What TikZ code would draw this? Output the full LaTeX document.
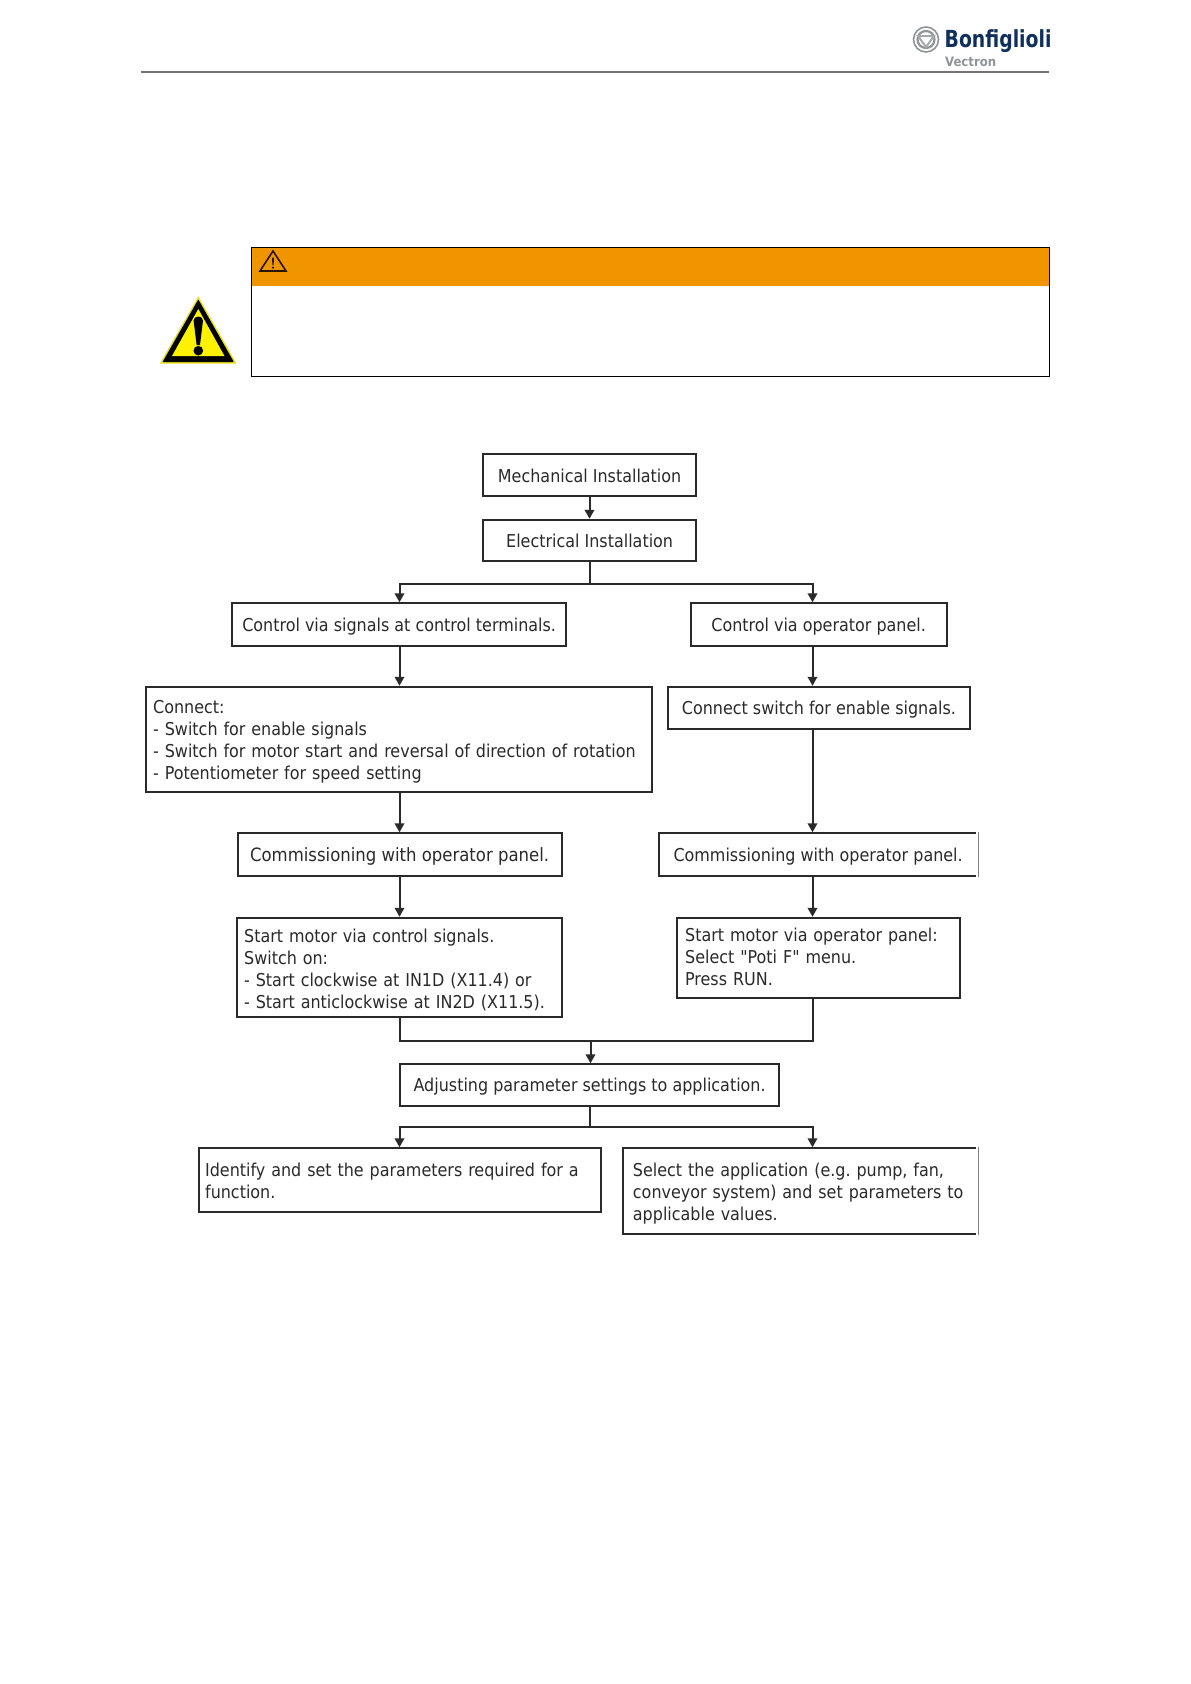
\documentclass[tikz,border=0pt]{standalone}
\usepackage{fontspec}
\setmainfont{DejaVu Sans Condensed}
\newfontfamily\boxfont{DejaVu Sans Condensed}
\usetikzlibrary{arrows.meta,calc}
\definecolor{ink}{HTML}{2A2A2A}
\definecolor{warn}{HTML}{F09400}
\definecolor{logoblue}{HTML}{0F2F5C}
\definecolor{logogray}{HTML}{8E9497}
\tikzset{
  boxbase/.style={draw=ink,line width=1.9pt,inner sep=0pt,text=ink,font=\boxfont\frenchspacing\fontsize{17.75}{22}\selectfont},
  single/.style={text height=13.5pt,text depth=0.2pt},
  arr/.style={draw=ink,line width=2pt,-{Triangle[length=9pt,width=9.5pt]}},
  lin/.style={draw=ink,line width=2pt},
  fadeedge/.style={draw=black!50,line width=1.1pt,preaction={draw=white,line width=3.4pt}},
}
\newcommand{\bxc}[6]{\node[boxbase,single,minimum width=#4pt-#2pt,minimum height=#5pt-#3pt,anchor=north west] (#1) at (#2,#3) {#6};}
\newcommand{\bxl}[7]{\node[boxbase,minimum width=#4pt-#2pt,minimum height=#5pt-#3pt,text width=#4pt-#2pt-2*#7pt,align=left,anchor=north west] (#1) at (#2,#3) {#6};}
\newcommand{\lowerfirst}{\rule{0pt}{18pt}}
\begin{document}
\begin{tikzpicture}[x=1pt,y=-1pt]
\useasboundingbox (0,0) rectangle (1191,1684);
\fill[white] (0,0) rectangle (1191,1684);
% header rule and logo
\draw[draw=black!55,line width=1.1pt] (140.5,72) -- (1049,72);
\draw[logogray,line width=1.6pt] (926,39.5) circle (12.5);
\draw[logogray,line width=2.2pt] (926,39.5) circle (8.5);
\draw[logogray!80,line width=2pt] (918,36) -- (934,36) -- (926,47) -- cycle;
\node[anchor=base west,inner sep=0pt,text=logoblue,xscale=0.89,transform shape,font=\fontsize{23.5}{24}\selectfont\bfseries] (logoname) at (944.5,47) {Bonfiglioli};
\node[anchor=base west,inner sep=0pt,text=logogray,font=\fontsize{13}{13}\selectfont\bfseries] (logosub) at (945,66) {Vectron};
% warning panel
\fill[warn] (251.4,247.5) rectangle (1049,285.5);
\draw[black,line width=0.9pt] (251.4,247.5) rectangle (1049,376);
\draw[draw=black!85!warn,line width=1.6pt,line join=miter] (273,251) -- (286,271) -- (260,271) -- cycle;
\fill[black!85!warn] (272,257.5) -- (274,257.5) -- (273.6,265) -- (272.4,265) -- cycle;
\fill[black!85!warn] (273,267.6) circle (1.2);
% yellow triangle
\draw[draw=black,fill=black,line width=1pt,line join=round,preaction={draw=yellow!90!black,line width=4pt}] (198.3,300.5) -- (233,361.5) -- (163.4,361.5) -- cycle;
\fill[yellow] (198.3,309) -- (224.5,356) -- (172,356) -- cycle;
\fill[black] (193.6,320.5) .. controls (193.8,315.2) and (202.8,315.2) .. (203,320.5) -- (200,345) -- (196.6,345) -- cycle;
\fill[black] (198.3,350.7) circle (4.8);
\begin{scope}[shift={(-0.8,-0.7)}]
% flow boxes
\bxc{mech}{483}{454}{696}{496}{\raisebox{-1pt}{Mechanical Installation}}
\bxc{elec}{483}{519.5}{696}{561}{Electrical Installation}
\bxc{ctrlL}{232}{603}{566}{645.5}{Control via signals at control terminals.}
\bxc{ctrlR}{690.5}{603}{946.5}{645.5}{Control via operator panel.}
\bxl{conn}{146}{686.5}{652}{792}{\lowerfirst Connect:\\- Switch for enable signals\\- Switch for motor start and reversal of direction of rotation\\- Potentiometer for speed setting}{7}
\bxc{connR}{667.5}{686.5}{970}{729}{Connect switch for enable signals.}
\bxc{commL}{237.5}{833}{561.5}{875.5}{\fontsize{18.35}{22}\selectfont Commissioning with operator panel.}
\bxc{commR}{659}{833}{977}{875.5}{Commissioning with operator panel.}
\bxl{startL}{237}{917.5}{562}{1017}{\lowerfirst Start motor via control signals.\\Switch on:\\- Start clockwise at IN1D (X11.4) or\\- Start anticlockwise at IN2D (X11.5).}{7}
\bxl{startR}{677}{917.5}{960}{998}{Start motor via operator panel:\\Select "Poti F" menu.\\Press RUN.\rule[-3pt]{0pt}{3pt}}{8}
\bxc{adj}{400}{1064}{779}{1106}{Adjusting parameter settings to application.}
\bxl{ident}{198.5}{1148}{601}{1211.5}{\rule{0pt}{16pt}Identify and set the parameters required for a function.}{6.5}
\bxl{sel}{623}{1148}{977}{1233.5}{\lowerfirst Select the application (e.g. pump, fan, conveyor system) and set parameters to applicable values.}{9.8}
\draw[fadeedge] (commR.north east) -- (commR.south east);
\draw[fadeedge] (sel.north east) -- (sel.south east);
% routing references
\coordinate (xL) at (400.3,0);
\coordinate (xR) at (813.3,0);
\coordinate (xM) at (590.3,0);
\coordinate (j1) at (590.3,584.4);
\coordinate (j2) at (591.3,1041.7);
\coordinate (j3) at (590.3,1127.7);
% connectors
\draw[arr] (mech.south -| xM) -- (elec.north -| xM);
\draw[lin] (elec.south -| j1) -- (j1);
\draw[arr] (j1) -| (ctrlL.north -| xL);
\draw[arr] (j1) -| (ctrlR.north -| xR);
\draw[arr] (ctrlL.south -| xL) -- (conn.north -| xL);
\draw[arr] (ctrlR.south -| xR) -- (connR.north -| xR);
\draw[arr] (conn.south -| xL) -- (commL.north -| xL);
\draw[arr] (connR.south -| xR) -- (commR.north -| xR);
\draw[arr] (commL.south -| xL) -- (startL.north -| xL);
\draw[arr] (commR.south -| xR) -- (startR.north -| xR);
\draw[lin] (startL.south -| xL) |- (j2);
\draw[lin] (startR.south -| xR) |- (j2);
\draw[arr] (j2) -- (adj.north -| j2);
\draw[lin] (adj.south -| j3) -- (j3);
\draw[arr] (j3) -| (ident.north -| xL);
\draw[arr] (j3) -| (sel.north -| xR);
\end{scope}
\end{tikzpicture}
\end{document}
